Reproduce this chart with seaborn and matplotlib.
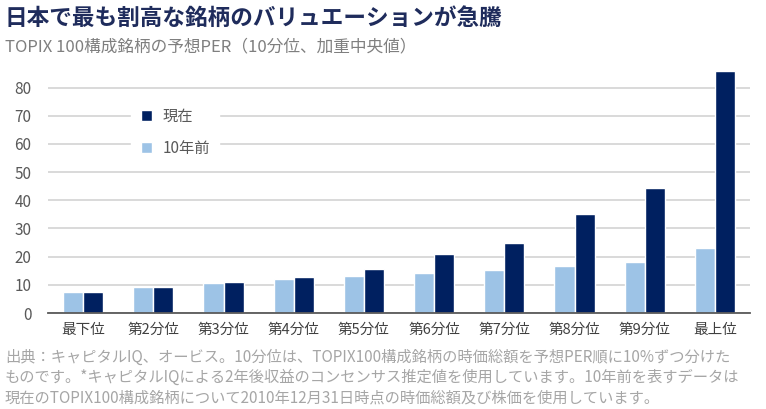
import matplotlib
matplotlib.use("Agg")
import matplotlib.pyplot as plt
import seaborn as sns
import pandas as pd

# data
deciles = ["最下位", "第2分位", "第3分位", "第4分位", "第5分位",
           "第6分位", "第7分位", "第8分位", "第9分位", "最上位"]
per_10y_ago = [7.3, 9.4, 10.5, 12.0, 13.2, 14.3, 15.4, 16.8, 18.2, 23.2]
per_now = [7.3, 9.4, 11.0, 12.9, 15.7, 21.0, 24.9, 35.2, 44.4, 85.9]
series = ["10年前", "現在"]
colors = ["#9DC3E6", "#002060"]

sns.set_style("white")
plt.rcParams["font.family"] = ["Noto Sans CJK JP", "DejaVu Sans"]

df = pd.DataFrame({
    "decile": deciles * 2,
    "per": per_10y_ago + per_now,
    "series": [series[0]] * len(deciles) + [series[1]] * len(deciles),
})

fig = plt.figure(figsize=(7.66, 4.09), dpi=100)
ax = fig.add_axes([48 / 766, 1 - 313 / 409, 702 / 766, 248 / 409])

sns.barplot(data=df, x="decile", y="per", hue="series", order=deciles,
            hue_order=series, palette=colors, width=0.57, saturation=1,
            dodge=True, ax=ax, errorbar=None)

ax.set_ylim(0, 88)
ax.set_xlim(-0.5, 9.5)
ax.set_yticks(range(0, 81, 10))
ax.yaxis.grid(True, color="#D9D9D9", linewidth=1.4)
ax.set_axisbelow(True)
for s in ["top", "right", "left"]:
    ax.spines[s].set_visible(False)
ax.spines["bottom"].set_color("#595959")
ax.spines["bottom"].set_linewidth(1.3)
ax.set_xlabel("")
ax.set_ylabel("")

ax.tick_params(axis="y", length=0, labelsize=11, labelcolor="#595959", pad=12)
ax.set_xticks(range(len(deciles)))
ax.set_xticklabels(deciles)
ax.tick_params(axis="x", length=0, labelsize=10.5, labelcolor="#404040", pad=7)
# boundary ticks between categories
ax.set_xticks([i - 0.5 for i in range(len(deciles) + 1)], minor=True)
ax.tick_params(axis="x", which="minor", length=5, width=1.3, color="#595959")

handles, labels = ax.get_legend_handles_labels()
leg = ax.legend(handles[::-1], labels[::-1], loc="upper left",
                bbox_to_anchor=(0.108, 0.895), frameon=True, framealpha=1,
                edgecolor="white", fontsize=11, labelcolor="#595959",
                handlelength=0.75, handleheight=0.75, labelspacing=1.0,
                handletextpad=0.7, borderpad=0.6)

fig.text(5 / 766, 1 - 18 / 409, "日本で最も割高な銘柄のバリュエーションが急騰",
         fontsize=16.3, fontweight="bold", color="#1F2C5C", va="center")
fig.text(5 / 766, 1 - 47 / 409, "TOPIX 100構成銘柄の予想PER（10分位、加重中央値）",
         fontsize=12, color="#7F7F7F", va="center")

notes = [
    "出典：キャピタルIQ、オービス。10分位は、TOPIX100構成銘柄の時価総額を予想PER順に10%ずつ分けた",
    "ものです。*キャピタルIQによる2年後収益のコンセンサス推定値を使用しています。10年前を表すデータは",
    "現在のTOPIX100構成銘柄について2010年12月31日時点の時価総額及び株価を使用しています。",
]
for i, line in enumerate(notes):
    fig.text(5 / 766, 1 - (357 + 20.5 * i) / 409, line, fontsize=11,
             color="#A6A6A6", va="center")

fig.savefig("out.png", dpi=100)
